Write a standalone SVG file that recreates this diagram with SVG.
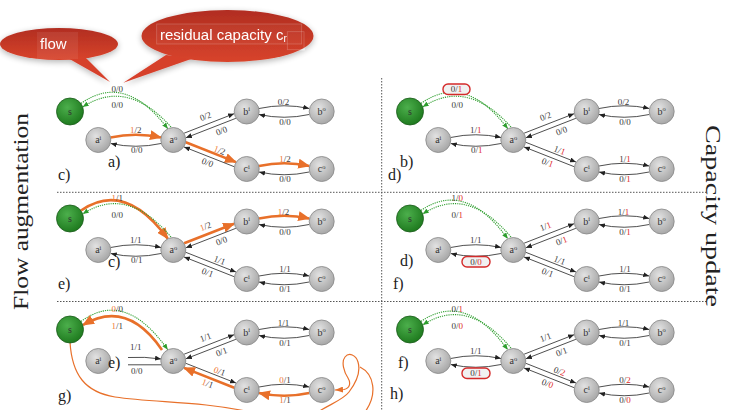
<svg xmlns="http://www.w3.org/2000/svg" width="736" height="410" viewBox="0 0 736 410">
<style>
.nd{fill:url(#gGrey);stroke:#858585;stroke-width:.8}
.ns{fill:url(#gGreen);stroke:#1b5c1b;stroke-width:.8}
.nt{font-family:"Liberation Serif",serif;font-size:10px;fill:#333;text-anchor:middle}
.sp{font-size:6.5px}
.lb{font-family:"Liberation Serif",serif;font-size:9px;fill:#3a3a3a;text-anchor:middle}
.o{fill:#ef7a35}
.r{fill:#e02b2b}
.e{fill:none;stroke:#222;stroke-width:.8;marker-end:url(#ah)}
.e0{fill:none;stroke:#222;stroke-width:.8}
.eo{fill:none;stroke:#e8702a;stroke-width:2.6;marker-end:url(#aho)}
.eg{fill:none;stroke:#2e9e2e;stroke-width:1.1;stroke-dasharray:1.2 1;marker-end:url(#ahg)}
.sq{fill:none;stroke:#e8702a;stroke-width:1.2}
.pl{font-family:"Liberation Serif",serif;font-size:16px;fill:#222}
.hl{fill:#f1f1f1;stroke:#d42a2a;stroke-width:1.4}
.dv{stroke:#555;stroke-width:1;stroke-dasharray:1.5 1.5}
.side{font-family:"Liberation Serif",serif;font-size:20px;fill:#222}
.bt{font-family:"Liberation Sans",Arial,sans-serif;font-size:15px;fill:#fff}
</style>
<defs>
<radialGradient id="gGrey" cx="40%" cy="35%" r="65%"><stop offset="0" stop-color="#e2e2e2"/><stop offset="1" stop-color="#a8a8a8"/></radialGradient>
<radialGradient id="gGreen" cx="40%" cy="35%" r="65%"><stop offset="0" stop-color="#4caf4c"/><stop offset="1" stop-color="#1f7b1f"/></radialGradient>
<linearGradient id="gBubble" x1="0" y1="0" x2="0" y2="1"><stop offset="0" stop-color="#b12d20"/><stop offset="1" stop-color="#d8442c"/></linearGradient>
<filter id="soft" x="-20%" y="-40%" width="140%" height="190%"><feGaussianBlur in="SourceAlpha" stdDeviation="3"/><feOffset dy="2"/><feComponentTransfer><feFuncA type="linear" slope="0.3"/></feComponentTransfer><feMerge><feMergeNode/><feMergeNode in="SourceGraphic"/></feMerge></filter>
<marker id="ah" viewBox="0 0 6 5" refX="6" refY="2.5" markerWidth="6" markerHeight="5" markerUnits="userSpaceOnUse" orient="auto"><path d="M0,0 L6,2.5 L0,5 z" fill="#222"/></marker>
<marker id="ahg" viewBox="0 0 6 5" refX="6" refY="2.5" markerWidth="6" markerHeight="5" markerUnits="userSpaceOnUse" orient="auto"><path d="M0,0 L6,2.5 L0,5 z" fill="#2e9e2e"/></marker>
<marker id="aho" viewBox="0 0 12 10" refX="11" refY="5" markerWidth="12" markerHeight="10" markerUnits="userSpaceOnUse" orient="auto"><path d="M0,0 L12,5 L0,10 z" fill="#e8702a"/></marker>
<marker id="ahs" viewBox="0 0 8 6" refX="8" refY="3" markerWidth="8" markerHeight="6" markerUnits="userSpaceOnUse" orient="auto"><path d="M0,0 L8,3 L0,6 z" fill="#e8702a"/></marker>
</defs>

<rect width="736" height="410" fill="#fff"/>

<!-- panel dividers -->
<g id="dividers">
<line class="dv" x1="381.7" y1="78" x2="381.7" y2="410"/>
<line class="dv" x1="57" y1="192.3" x2="707" y2="192.3"/>
<line class="dv" x1="57" y1="301.5" x2="707" y2="301.5"/>
</g>

<text class="side" transform="translate(28,310) rotate(-90)" textLength="197" lengthAdjust="spacingAndGlyphs">Flow augmentation</text>
<text class="side" transform="translate(706,125) rotate(90)" textLength="182" lengthAdjust="spacingAndGlyphs">Capacity update</text>

<!-- ===== panel c : first augmentation ===== -->
<g id="panel-c">
<g id="pc-connectors">
<path class="eg" d="M81,103.5 Q125,72 167.8,128.8"/>
<path class="eg" d="M171,127 Q127,78 82.7,107"/>
<path class="eo" d="M110.5,137.5 Q135.8,132 161,137.5"/>
<path class="e" d="M161,143.5 Q135.8,149 110.8,143.5"/>
<path class="e" d="M184.1,133.2 L234.1,113.7"/>
<path class="e" d="M235.9,118.3 L185.9,137.8"/>
<path class="eo" d="M185.8,142.3 L236,162.1"/>
<path class="e" d="M234.2,166.7 L184,146.9"/>
<path class="e" d="M259,108.5 Q284.2,103 309.2,108.5"/>
<path class="e" d="M309.2,114.5 Q284.2,120 259,114.5"/>
<path class="eo" d="M259,166 Q284.2,160.5 309.2,166"/>
<path class="e" d="M309.2,172 Q284.2,177.5 259,172"/>
</g>
<g id="pc-labels">
<text class="lb" x="117.3" y="91.8">0/0</text>
<text class="lb" x="117.3" y="107.8">0/0</text>
<text class="lb" x="135.7" y="132.5"><tspan class="o">1</tspan>/2</text>
<text class="lb" x="136.7" y="152.8">0/0</text>
<text class="lb" transform="translate(205.5,116.5) rotate(-21)" y="2.8">0/2</text>
<text class="lb" transform="translate(221.5,131) rotate(-21)" y="2.8">0/0</text>
<text class="lb" transform="translate(219.5,150.5) rotate(21)" y="2.8"><tspan class="o">1</tspan>/2</text>
<text class="lb" transform="translate(207.5,162.7) rotate(21)" y="2.8">0/0</text>
<text class="lb" x="283.5" y="104.5">0/2</text>
<text class="lb" x="285" y="124.5">0/0</text>
<text class="lb" x="285" y="162"><tspan class="o">1</tspan>/2</text>
<text class="lb" x="285" y="182">0/0</text>
</g>
<g id="pc-s"><circle class="ns" cx="70" cy="111.5" r="13.5"/><text class="nt" x="70" y="114.5">s</text></g>
<g id="pc-ai"><circle class="nd" cx="98.3" cy="140" r="12.5"/><text class="nt" x="98.3" y="143">a<tspan class="sp" dy="-3.5">i</tspan></text></g>
<g id="pc-ao"><circle class="nd" cx="173.3" cy="140" r="12.5"/><text class="nt" x="173.3" y="143">a<tspan class="sp" dy="-3.5">o</tspan></text></g>
<g id="pc-bi"><circle class="nd" cx="246.7" cy="111.5" r="12.5"/><text class="nt" x="246.7" y="114.5">b<tspan class="sp" dy="-3.5">i</tspan></text></g>
<g id="pc-bo"><circle class="nd" cx="321.7" cy="111.5" r="12.5"/><text class="nt" x="321.7" y="114.5">b<tspan class="sp" dy="-3.5">o</tspan></text></g>
<g id="pc-ci"><circle class="nd" cx="246.7" cy="169" r="12.5"/><text class="nt" x="246.7" y="172">c<tspan class="sp" dy="-3.5">i</tspan></text></g>
<g id="pc-co"><circle class="nd" cx="321.7" cy="169" r="12.5"/><text class="nt" x="321.7" y="172">c<tspan class="sp" dy="-3.5">o</tspan></text></g>
<text class="pl" x="108" y="167">a)</text>
<text class="pl" x="58" y="180">c)</text>
</g>

<!-- ===== panel d : capacities after first augmentation ===== -->
<g id="panel-d" transform="translate(340,0)">
<g id="pd-connectors">
<path class="eg" d="M81,103.5 Q125,72 167.8,128.8"/>
<path class="eg" d="M171,127 Q127,78 82.7,107"/>
<path class="e" d="M110.5,137.5 Q135.8,132 161,137.5"/>
<path class="e" d="M161,143.5 Q135.8,149 110.8,143.5"/>
<path class="e" d="M184.1,133.2 L234.1,113.7"/>
<path class="e" d="M235.9,118.3 L185.9,137.8"/>
<path class="e" d="M185.8,142.3 L236,162.1"/>
<path class="e" d="M234.2,166.7 L184,146.9"/>
<path class="e" d="M259,108.5 Q284.2,103 309.2,108.5"/>
<path class="e" d="M309.2,114.5 Q284.2,120 259,114.5"/>
<path class="e" d="M259,166 Q284.2,160.5 309.2,166"/>
<path class="e" d="M309.2,172 Q284.2,177.5 259,172"/>
</g>
<g id="pd-labels">
<rect class="hl" x="103" y="84" width="27" height="10.5" rx="5"/>
<text class="lb" x="116.5" y="91.8">0/<tspan class="r">1</tspan></text>
<text class="lb" x="117.3" y="107.8">0/0</text>
<text class="lb" x="135.7" y="132.5">1/<tspan class="r">1</tspan></text>
<text class="lb" x="136.7" y="152.8">0/<tspan class="r">1</tspan></text>
<text class="lb" transform="translate(205.5,116.5) rotate(-21)" y="2.8">0/2</text>
<text class="lb" transform="translate(221.5,131) rotate(-21)" y="2.8">0/0</text>
<text class="lb" transform="translate(219.5,150.5) rotate(21)" y="2.8">1/<tspan class="r">1</tspan></text>
<text class="lb" transform="translate(207.5,162.7) rotate(21)" y="2.8">0/<tspan class="r">1</tspan></text>
<text class="lb" x="283.5" y="104.5">0/2</text>
<text class="lb" x="285" y="124.5">0/0</text>
<text class="lb" x="285" y="162">1/<tspan class="r">1</tspan></text>
<text class="lb" x="285" y="182">0/<tspan class="r">1</tspan></text>
</g>
<g id="pd-s"><circle class="ns" cx="70" cy="111.5" r="13.5"/><text class="nt" x="70" y="114.5">s</text></g>
<g id="pd-ai"><circle class="nd" cx="98.3" cy="140" r="12.5"/><text class="nt" x="98.3" y="143">a<tspan class="sp" dy="-3.5">i</tspan></text></g>
<g id="pd-ao"><circle class="nd" cx="173.3" cy="140" r="12.5"/><text class="nt" x="173.3" y="143">a<tspan class="sp" dy="-3.5">o</tspan></text></g>
<g id="pd-bi"><circle class="nd" cx="246.7" cy="111.5" r="12.5"/><text class="nt" x="246.7" y="114.5">b<tspan class="sp" dy="-3.5">i</tspan></text></g>
<g id="pd-bo"><circle class="nd" cx="321.7" cy="111.5" r="12.5"/><text class="nt" x="321.7" y="114.5">b<tspan class="sp" dy="-3.5">o</tspan></text></g>
<g id="pd-ci"><circle class="nd" cx="246.7" cy="169" r="12.5"/><text class="nt" x="246.7" y="172">c<tspan class="sp" dy="-3.5">i</tspan></text></g>
<g id="pd-co"><circle class="nd" cx="321.7" cy="169" r="12.5"/><text class="nt" x="321.7" y="172">c<tspan class="sp" dy="-3.5">o</tspan></text></g>
<text class="pl" x="60" y="167">b)</text>
<text class="pl" x="48" y="180">d)</text>
</g>

<!-- ===== panel e : second augmentation ===== -->
<g id="panel-e" transform="translate(0,110)">
<g id="pe-connectors">
<path class="eo" d="M81,100.5 Q125,70 167.8,128.8"/>
<path class="eg" d="M171,127 Q127,75 82.7,104"/>
<path class="e" d="M110.5,137.5 Q135.8,132 161,137.5"/>
<path class="e" d="M161,143.5 Q135.8,149 110.8,143.5"/>
<path class="eo" d="M184.1,133.2 L234.1,113.7"/>
<path class="e" d="M235.9,118.3 L185.9,137.8"/>
<path class="e" d="M185.8,142.3 L236,162.1"/>
<path class="e" d="M234.2,166.7 L184,146.9"/>
<path class="eo" d="M259,108.5 Q284.2,103 309.2,108.5"/>
<path class="e" d="M309.2,114.5 Q284.2,120 259,114.5"/>
<path class="e" d="M259,166 Q284.2,160.5 309.2,166"/>
<path class="e" d="M309.2,172 Q284.2,177.5 259,172"/>
</g>
<g id="pe-labels">
<text class="lb" x="117.3" y="90.5"><tspan class="o">1</tspan>/1</text>
<text class="lb" x="117.3" y="107.5">0/0</text>
<text class="lb" x="135.7" y="132.5">1/1</text>
<text class="lb" x="136.7" y="152.8">0/1</text>
<text class="lb" transform="translate(205.5,116.5) rotate(-21)" y="2.8"><tspan class="o">1</tspan>/2</text>
<text class="lb" transform="translate(221.5,131) rotate(-21)" y="2.8">0/0</text>
<text class="lb" transform="translate(219.5,150.5) rotate(21)" y="2.8">1/1</text>
<text class="lb" transform="translate(207.5,162.7) rotate(21)" y="2.8">0/1</text>
<text class="lb" x="283.5" y="104.5"><tspan class="o">1</tspan>/2</text>
<text class="lb" x="285" y="124.5">0/0</text>
<text class="lb" x="285" y="162">1/1</text>
<text class="lb" x="285" y="182">0/1</text>
</g>
<g id="pe-s"><circle class="ns" cx="70" cy="108.5" r="13.5"/><text class="nt" x="70" y="111.5">s</text></g>
<g id="pe-ai"><circle class="nd" cx="98.3" cy="140" r="12.5"/><text class="nt" x="98.3" y="143">a<tspan class="sp" dy="-3.5">i</tspan></text></g>
<g id="pe-ao"><circle class="nd" cx="173.3" cy="140" r="12.5"/><text class="nt" x="173.3" y="143">a<tspan class="sp" dy="-3.5">o</tspan></text></g>
<g id="pe-bi"><circle class="nd" cx="246.7" cy="111.5" r="12.5"/><text class="nt" x="246.7" y="114.5">b<tspan class="sp" dy="-3.5">i</tspan></text></g>
<g id="pe-bo"><circle class="nd" cx="321.7" cy="111.5" r="12.5"/><text class="nt" x="321.7" y="114.5">b<tspan class="sp" dy="-3.5">o</tspan></text></g>
<g id="pe-ci"><circle class="nd" cx="246.7" cy="169" r="12.5"/><text class="nt" x="246.7" y="172">c<tspan class="sp" dy="-3.5">i</tspan></text></g>
<g id="pe-co"><circle class="nd" cx="321.7" cy="169" r="12.5"/><text class="nt" x="321.7" y="172">c<tspan class="sp" dy="-3.5">o</tspan></text></g>
<text class="pl" x="108" y="157">c)</text>
<text class="pl" x="58" y="179">e)</text>
</g>

<!-- ===== panel f : capacities after second augmentation ===== -->
<g id="panel-f" transform="translate(340,110)">
<g id="pf-connectors">
<path class="eg" d="M81,100.5 Q125,70 167.8,128.8"/>
<path class="eg" d="M171,127 Q127,75 82.7,104"/>
<path class="e" d="M110.5,137.5 Q135.8,132 161,137.5"/>
<path class="e" d="M161,143.5 Q135.8,149 110.8,143.5"/>
<path class="e" d="M184.1,133.2 L234.1,113.7"/>
<path class="e" d="M235.9,118.3 L185.9,137.8"/>
<path class="e" d="M185.8,142.3 L236,162.1"/>
<path class="e" d="M234.2,166.7 L184,146.9"/>
<path class="e" d="M259,108.5 Q284.2,103 309.2,108.5"/>
<path class="e" d="M309.2,114.5 Q284.2,120 259,114.5"/>
<path class="e" d="M259,166 Q284.2,160.5 309.2,166"/>
<path class="e" d="M309.2,172 Q284.2,177.5 259,172"/>
</g>
<g id="pf-labels">
<text class="lb" x="117.3" y="90.5">1/<tspan class="r">0</tspan></text>
<text class="lb" x="117.3" y="107.5">0/<tspan class="r">1</tspan></text>
<text class="lb" x="135.7" y="132.5">1/1</text>
<rect class="hl" x="122" y="146.5" width="28" height="10.5" rx="5"/>
<text class="lb" x="136" y="154.7">0/<tspan class="r">0</tspan></text>
<text class="lb" transform="translate(205.5,116.5) rotate(-21)" y="2.8">1/<tspan class="r">1</tspan></text>
<text class="lb" transform="translate(221.5,131) rotate(-21)" y="2.8">0/<tspan class="r">1</tspan></text>
<text class="lb" transform="translate(219.5,150.5) rotate(21)" y="2.8">1/1</text>
<text class="lb" transform="translate(207.5,162.7) rotate(21)" y="2.8">0/1</text>
<text class="lb" x="283.5" y="104.5">1/<tspan class="r">1</tspan></text>
<text class="lb" x="285" y="124.5">0/<tspan class="r">1</tspan></text>
<text class="lb" x="285" y="162">1/1</text>
<text class="lb" x="285" y="182">0/1</text>
</g>
<g id="pf-s"><circle class="ns" cx="70" cy="108.5" r="13.5"/><text class="nt" x="70" y="111.5">s</text></g>
<g id="pf-ai"><circle class="nd" cx="98.3" cy="140" r="12.5"/><text class="nt" x="98.3" y="143">a<tspan class="sp" dy="-3.5">i</tspan></text></g>
<g id="pf-ao"><circle class="nd" cx="173.3" cy="140" r="12.5"/><text class="nt" x="173.3" y="143">a<tspan class="sp" dy="-3.5">o</tspan></text></g>
<g id="pf-bi"><circle class="nd" cx="246.7" cy="111.5" r="12.5"/><text class="nt" x="246.7" y="114.5">b<tspan class="sp" dy="-3.5">i</tspan></text></g>
<g id="pf-bo"><circle class="nd" cx="321.7" cy="111.5" r="12.5"/><text class="nt" x="321.7" y="114.5">b<tspan class="sp" dy="-3.5">o</tspan></text></g>
<g id="pf-ci"><circle class="nd" cx="246.7" cy="169" r="12.5"/><text class="nt" x="246.7" y="172">c<tspan class="sp" dy="-3.5">i</tspan></text></g>
<g id="pf-co"><circle class="nd" cx="321.7" cy="169" r="12.5"/><text class="nt" x="321.7" y="172">c<tspan class="sp" dy="-3.5">o</tspan></text></g>
<text class="pl" x="60" y="156">d)</text>
<text class="pl" x="53" y="179">f)</text>
</g>

<!-- ===== panel g : third augmentation through residual edges ===== -->
<g id="panel-g" transform="translate(0,221)">
<g id="pg-connectors">
<path class="eg" d="M81,100.5 Q125,68 167.8,128.8"/>
<path class="eo" d="M162,129 Q127,78 83,104"/>
<path class="e" d="M128,136.5 Q145,135.5 161,138"/>
<path class="e0" d="M161,143.8 L128,143.8"/>
<path class="e" d="M184.1,133.2 L234.1,113.7"/>
<path class="e" d="M235.9,118.3 L185.9,137.8"/>
<path class="e" d="M185.8,142.3 L236,162.1"/>
<path class="eo" d="M234.2,166.7 L184,146.9"/>
<path class="e" d="M259,108.5 Q284.2,103 309.2,108.5"/>
<path class="e" d="M309.2,114.5 Q284.2,120 259,114.5"/>
<path class="e" d="M259,166 Q284.2,160.5 309.2,166"/>
<path class="eo" d="M309.2,172 Q284.2,177.5 259,172"/>
<g transform="translate(0,-221)">
<path class="sq" d="M70,342 C72,375 85,392 115,397 C155,403 200,401 250,412"/>
<path class="sq" marker-end="url(#ahs)" d="M318,412 C330,404 343,400 349,392 C355,384 361,372 358,362 C356,355 349,352 345,357 C341,362 344,372 348,378 C351,383 350,388 344,389.5 L335,390"/>
<path class="sq" d="M360,367 C374,374 378,394 365,412"/>
</g>
</g>
<g id="pg-labels">
<text class="lb" x="117.3" y="90.5"><tspan class="o">0</tspan>/0</text>
<text class="lb" x="117.3" y="107.5"><tspan class="o">1</tspan>/1</text>
<text class="lb" x="135.7" y="128.5">1/1</text>
<text class="lb" x="136.7" y="152.8">0/0</text>
<text class="lb" transform="translate(205.5,116.5) rotate(-21)" y="2.8">1/1</text>
<text class="lb" transform="translate(221.5,131) rotate(-21)" y="2.8">0/1</text>
<text class="lb" transform="translate(219.5,150.5) rotate(21)" y="2.8"><tspan class="o">0</tspan>/1</text>
<text class="lb" transform="translate(207.5,162.7) rotate(21)" y="2.8"><tspan class="o">1</tspan>/1</text>
<text class="lb" x="283.5" y="104.5">1/1</text>
<text class="lb" x="285" y="124.5">0/1</text>
<text class="lb" x="285" y="162"><tspan class="o">0</tspan>/1</text>
<text class="lb" x="285" y="182"><tspan class="o">1</tspan>/1</text>
</g>
<g id="pg-s"><circle class="ns" cx="70" cy="108.5" r="13.5"/><text class="nt" x="70" y="111.5">s</text></g>
<g id="pg-ai"><circle class="nd" cx="98.3" cy="140" r="12.5"/><text class="nt" x="98.3" y="143">a<tspan class="sp" dy="-3.5">i</tspan></text></g>
<g id="pg-ao"><circle class="nd" cx="173.3" cy="140" r="12.5"/><text class="nt" x="173.3" y="143">a<tspan class="sp" dy="-3.5">o</tspan></text></g>
<g id="pg-bi"><circle class="nd" cx="246.7" cy="111.5" r="12.5"/><text class="nt" x="246.7" y="114.5">b<tspan class="sp" dy="-3.5">i</tspan></text></g>
<g id="pg-bo"><circle class="nd" cx="321.7" cy="111.5" r="12.5"/><text class="nt" x="321.7" y="114.5">b<tspan class="sp" dy="-3.5">o</tspan></text></g>
<g id="pg-ci"><circle class="nd" cx="246.7" cy="169" r="12.5"/><text class="nt" x="246.7" y="172">c<tspan class="sp" dy="-3.5">i</tspan></text></g>
<g id="pg-co"><circle class="nd" cx="321.7" cy="169" r="12.5"/><text class="nt" x="321.7" y="172">c<tspan class="sp" dy="-3.5">o</tspan></text></g>
<text class="pl" x="108" y="147">e)</text>
<text class="pl" x="58" y="180">g)</text>
</g>

<!-- ===== panel h : capacities after third augmentation ===== -->
<g id="panel-h" transform="translate(340,221)">
<g id="ph-connectors">
<path class="eg" d="M81,100.5 Q125,70 167.8,128.8"/>
<path class="eg" d="M171,127 Q127,75 82.7,104"/>
<path class="e" d="M110.5,137.5 Q135.8,132 161,137.5"/>
<path class="e" d="M161,143.5 Q135.8,149 110.8,143.5"/>
<path class="e" d="M184.1,133.2 L234.1,113.7"/>
<path class="e" d="M235.9,118.3 L185.9,137.8"/>
<path class="e" d="M185.8,142.3 L236,162.1"/>
<path class="e" d="M234.2,166.7 L184,146.9"/>
<path class="e" d="M259,108.5 Q284.2,103 309.2,108.5"/>
<path class="e" d="M309.2,114.5 Q284.2,120 259,114.5"/>
<path class="e" d="M259,166 Q284.2,160.5 309.2,166"/>
<path class="e" d="M309.2,172 Q284.2,177.5 259,172"/>
</g>
<g id="ph-labels">
<text class="lb" x="117.3" y="90.5">0/<tspan class="r">1</tspan></text>
<text class="lb" x="117.3" y="107.5">0/<tspan class="r">0</tspan></text>
<text class="lb" x="135.7" y="132.5">1/1</text>
<rect class="hl" x="122" y="147" width="28" height="10.5" rx="5"/>
<text class="lb" x="136" y="155.2">0/<tspan class="r">1</tspan></text>
<text class="lb" transform="translate(205.5,116.5) rotate(-21)" y="2.8">1/1</text>
<text class="lb" transform="translate(221.5,131) rotate(-21)" y="2.8">0/1</text>
<text class="lb" transform="translate(219.5,150.5) rotate(21)" y="2.8">0/<tspan class="r">2</tspan></text>
<text class="lb" transform="translate(207.5,162.7) rotate(21)" y="2.8">0/<tspan class="r">0</tspan></text>
<text class="lb" x="283.5" y="104.5">1/1</text>
<text class="lb" x="285" y="124.5">0/1</text>
<text class="lb" x="285" y="162">0/<tspan class="r">2</tspan></text>
<text class="lb" x="285" y="182">0/<tspan class="r">0</tspan></text>
</g>
<g id="ph-s"><circle class="ns" cx="70" cy="108.5" r="13.5"/><text class="nt" x="70" y="111.5">s</text></g>
<g id="ph-ai"><circle class="nd" cx="98.3" cy="140" r="12.5"/><text class="nt" x="98.3" y="143">a<tspan class="sp" dy="-3.5">i</tspan></text></g>
<g id="ph-ao"><circle class="nd" cx="173.3" cy="140" r="12.5"/><text class="nt" x="173.3" y="143">a<tspan class="sp" dy="-3.5">o</tspan></text></g>
<g id="ph-bi"><circle class="nd" cx="246.7" cy="111.5" r="12.5"/><text class="nt" x="246.7" y="114.5">b<tspan class="sp" dy="-3.5">i</tspan></text></g>
<g id="ph-bo"><circle class="nd" cx="321.7" cy="111.5" r="12.5"/><text class="nt" x="321.7" y="114.5">b<tspan class="sp" dy="-3.5">o</tspan></text></g>
<g id="ph-ci"><circle class="nd" cx="246.7" cy="169" r="12.5"/><text class="nt" x="246.7" y="172">c<tspan class="sp" dy="-3.5">i</tspan></text></g>
<g id="ph-co"><circle class="nd" cx="321.7" cy="169" r="12.5"/><text class="nt" x="321.7" y="172">c<tspan class="sp" dy="-3.5">o</tspan></text></g>
<text class="pl" x="58" y="147">f)</text>
<text class="pl" x="50" y="178">h)</text>
</g>

<!-- speech bubbles naming the two numbers on an edge label -->
<g id="bubble-flow" filter="url(#soft)">
<path d="M66,57 L110,82 L86,58 z" fill="#d63f2b"/>
<ellipse cx="59" cy="44" rx="59" ry="16" fill="url(#gBubble)"/>
<rect x="37" y="32" width="41" height="27" fill="#fff" opacity=".07"/>
<text class="bt" x="40" y="49">flow</text>
</g>
<g id="bubble-residual" filter="url(#soft)">
<path d="M166,55 L123.3,82.7 L194,58 z" fill="#d63f2b"/>
<ellipse cx="227.5" cy="36" rx="86" ry="26" fill="url(#gBubble)"/>
<rect x="156.7" y="24" width="145" height="20" fill="#fff" fill-opacity=".04" stroke="#fff" stroke-opacity=".22" stroke-width=".8"/>
<rect x="287.3" y="31.7" width="16.7" height="18" fill="none" stroke="#fff" stroke-opacity=".22" stroke-width=".8"/>
<text class="bt" x="160" y="40">residual capacity c<tspan font-size="10" dy="2">r</tspan></text>
</g>
</svg>
